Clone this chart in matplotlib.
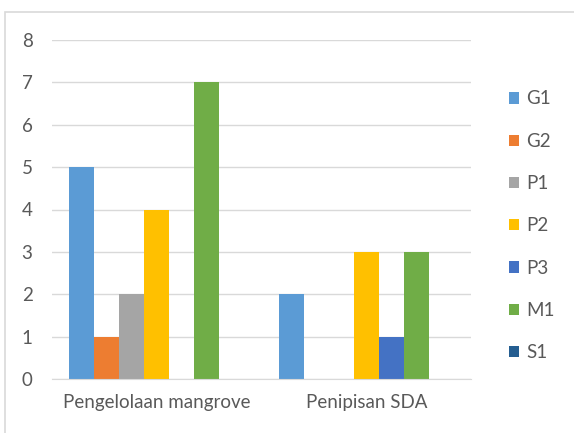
import numpy as np
import matplotlib.pyplot as plt
from matplotlib.patches import Rectangle

# data
categories = ["Pengelolaan mangrove", "Penipisan SDA"]
series = ["G1", "G2", "P1", "P2", "P3", "M1", "S1"]
values = {
    "G1": [5, 2],
    "G2": [1, 0],
    "P1": [2, 0],
    "P2": [4, 3],
    "P3": [0, 1],
    "M1": [7, 3],
    "S1": [0, 0],
}
colors = ["#5B9BD5", "#ED7D31", "#A5A5A5", "#FFC000", "#4472C4", "#70AD47", "#255E91"]

plt.rcParams["font.family"] = ["Lato", "DejaVu Sans"]

fig = plt.figure(figsize=(5.74, 4.33), dpi=100)
ax = fig.add_axes([52 / 574, 54 / 433, 419 / 574, 339 / 433])

# outer chart frame
fig.patches.append(Rectangle((5 / 574, -0.1), 1.2, 1 - 12 / 433 + 0.1,
                             transform=fig.transFigure, fill=False,
                             edgecolor="#D9D9D9", linewidth=1.2))

x = np.arange(len(categories))
width = 0.119
handles = []
for i, name in enumerate(series):
    offset = (i - (len(series) - 1) / 2) * width
    b = ax.bar(x + offset, values[name], width, color=colors[i], label=name)
    handles.append(b)

ax.set_xlim(-0.5, 1.5)
ax.set_ylim(0, 8)
ax.set_yticks(range(0, 9))
ax.set_xticks(x)
ax.set_xticklabels(categories)
ax.yaxis.grid(True, color="#D9D9D9", linewidth=1)
ax.set_axisbelow(True)
for side in ["top", "right", "left"]:
    ax.spines[side].set_visible(False)
ax.spines["bottom"].set_color("#D9D9D9")
ax.tick_params(axis="both", length=0, colors="#595959", labelsize=13.5)
ax.tick_params(axis="y", pad=14)
ax.tick_params(axis="x", pad=11)

fig.legend(handles=handles, labels=series, loc="upper left",
           bbox_to_anchor=(0.857, 0.83), frameon=False, fontsize=13.5,
           handlelength=0.55, handleheight=0.55, handletextpad=0.4,
           labelspacing=1.35, labelcolor="#595959")

plt.savefig("out.png", dpi=100)
